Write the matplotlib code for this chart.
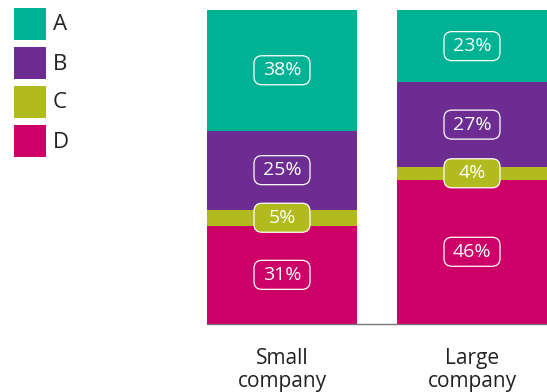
import matplotlib.pyplot as plt
from matplotlib.patches import Rectangle, FancyBboxPatch
from matplotlib.transforms import ScaledTranslation

plt.rcParams['font.family'] = ['Open Sans', 'DejaVu Sans']

companies = ['Small\ncompany', 'Large\ncompany']
categories = ['A', 'B', 'C', 'D']
colors = ['#00b294', '#6c2c91', '#b2bb1e', '#cc0066']
# percentages per category, top to bottom
small_pct = [38, 25, 5, 31]
large_pct = [23, 27, 4, 46]

fig = plt.figure(figsize=(5.47, 3.92), dpi=100)
ax = fig.add_axes([207 / 547, 68 / 392, 340 / 547, 314 / 392])

width = 150 / 190
for i, pct in enumerate([small_pct, large_pct]):
    total = sum(pct)
    # stack from the bottom (D) upward
    bottom = 0
    for cat, val, col in reversed(list(zip(categories, pct, colors))):
        h = val / total
        ax.bar(i, h, width=width, bottom=bottom, color=col, linewidth=0)
        yc = bottom + h / 2
        # fixed-size rounded label box (sizes in inches)
        tr = fig.dpi_scale_trans + ScaledTranslation(i, yc, ax.transData)
        box = FancyBboxPatch((-0.28, -0.145), 0.56, 0.29,
                             boxstyle='round,pad=0,rounding_size=0.08',
                             fc=col, ec='white', lw=0.9, transform=tr,
                             zorder=3)
        ax.add_artist(box)
        ax.text(i, yc, f'{val}%', ha='center', va='center',
                color='white', fontsize=14, zorder=4)
        bottom += h

ax.set_xlim(-width / 2, 1 + width / 2)
ax.set_ylim(0, 1)
ax.set_xticks([0, 1])
ax.set_xticklabels(companies, fontsize=15, color='#222222', linespacing=1.15)
ax.tick_params(axis='x', length=0, pad=17)
ax.set_yticks([])
for s in ['top', 'left', 'right']:
    ax.spines[s].set_visible(False)
ax.spines['bottom'].set_color('#777777')
ax.spines['bottom'].set_linewidth(1)

# legend: coloured squares with category names
for k, (cat, col) in enumerate(zip(categories, colors)):
    y_top = 8 + 39 * k
    fig.add_artist(Rectangle((14 / 547, 1 - (y_top + 32) / 392), 32 / 547, 32 / 392,
                             transform=fig.transFigure, color=col, lw=0))
    fig.text(53 / 547, 1 - (y_top + 17) / 392, cat, fontsize=16,
             color='#222222', va='center', ha='left')

fig.savefig('out.png', dpi=100)
